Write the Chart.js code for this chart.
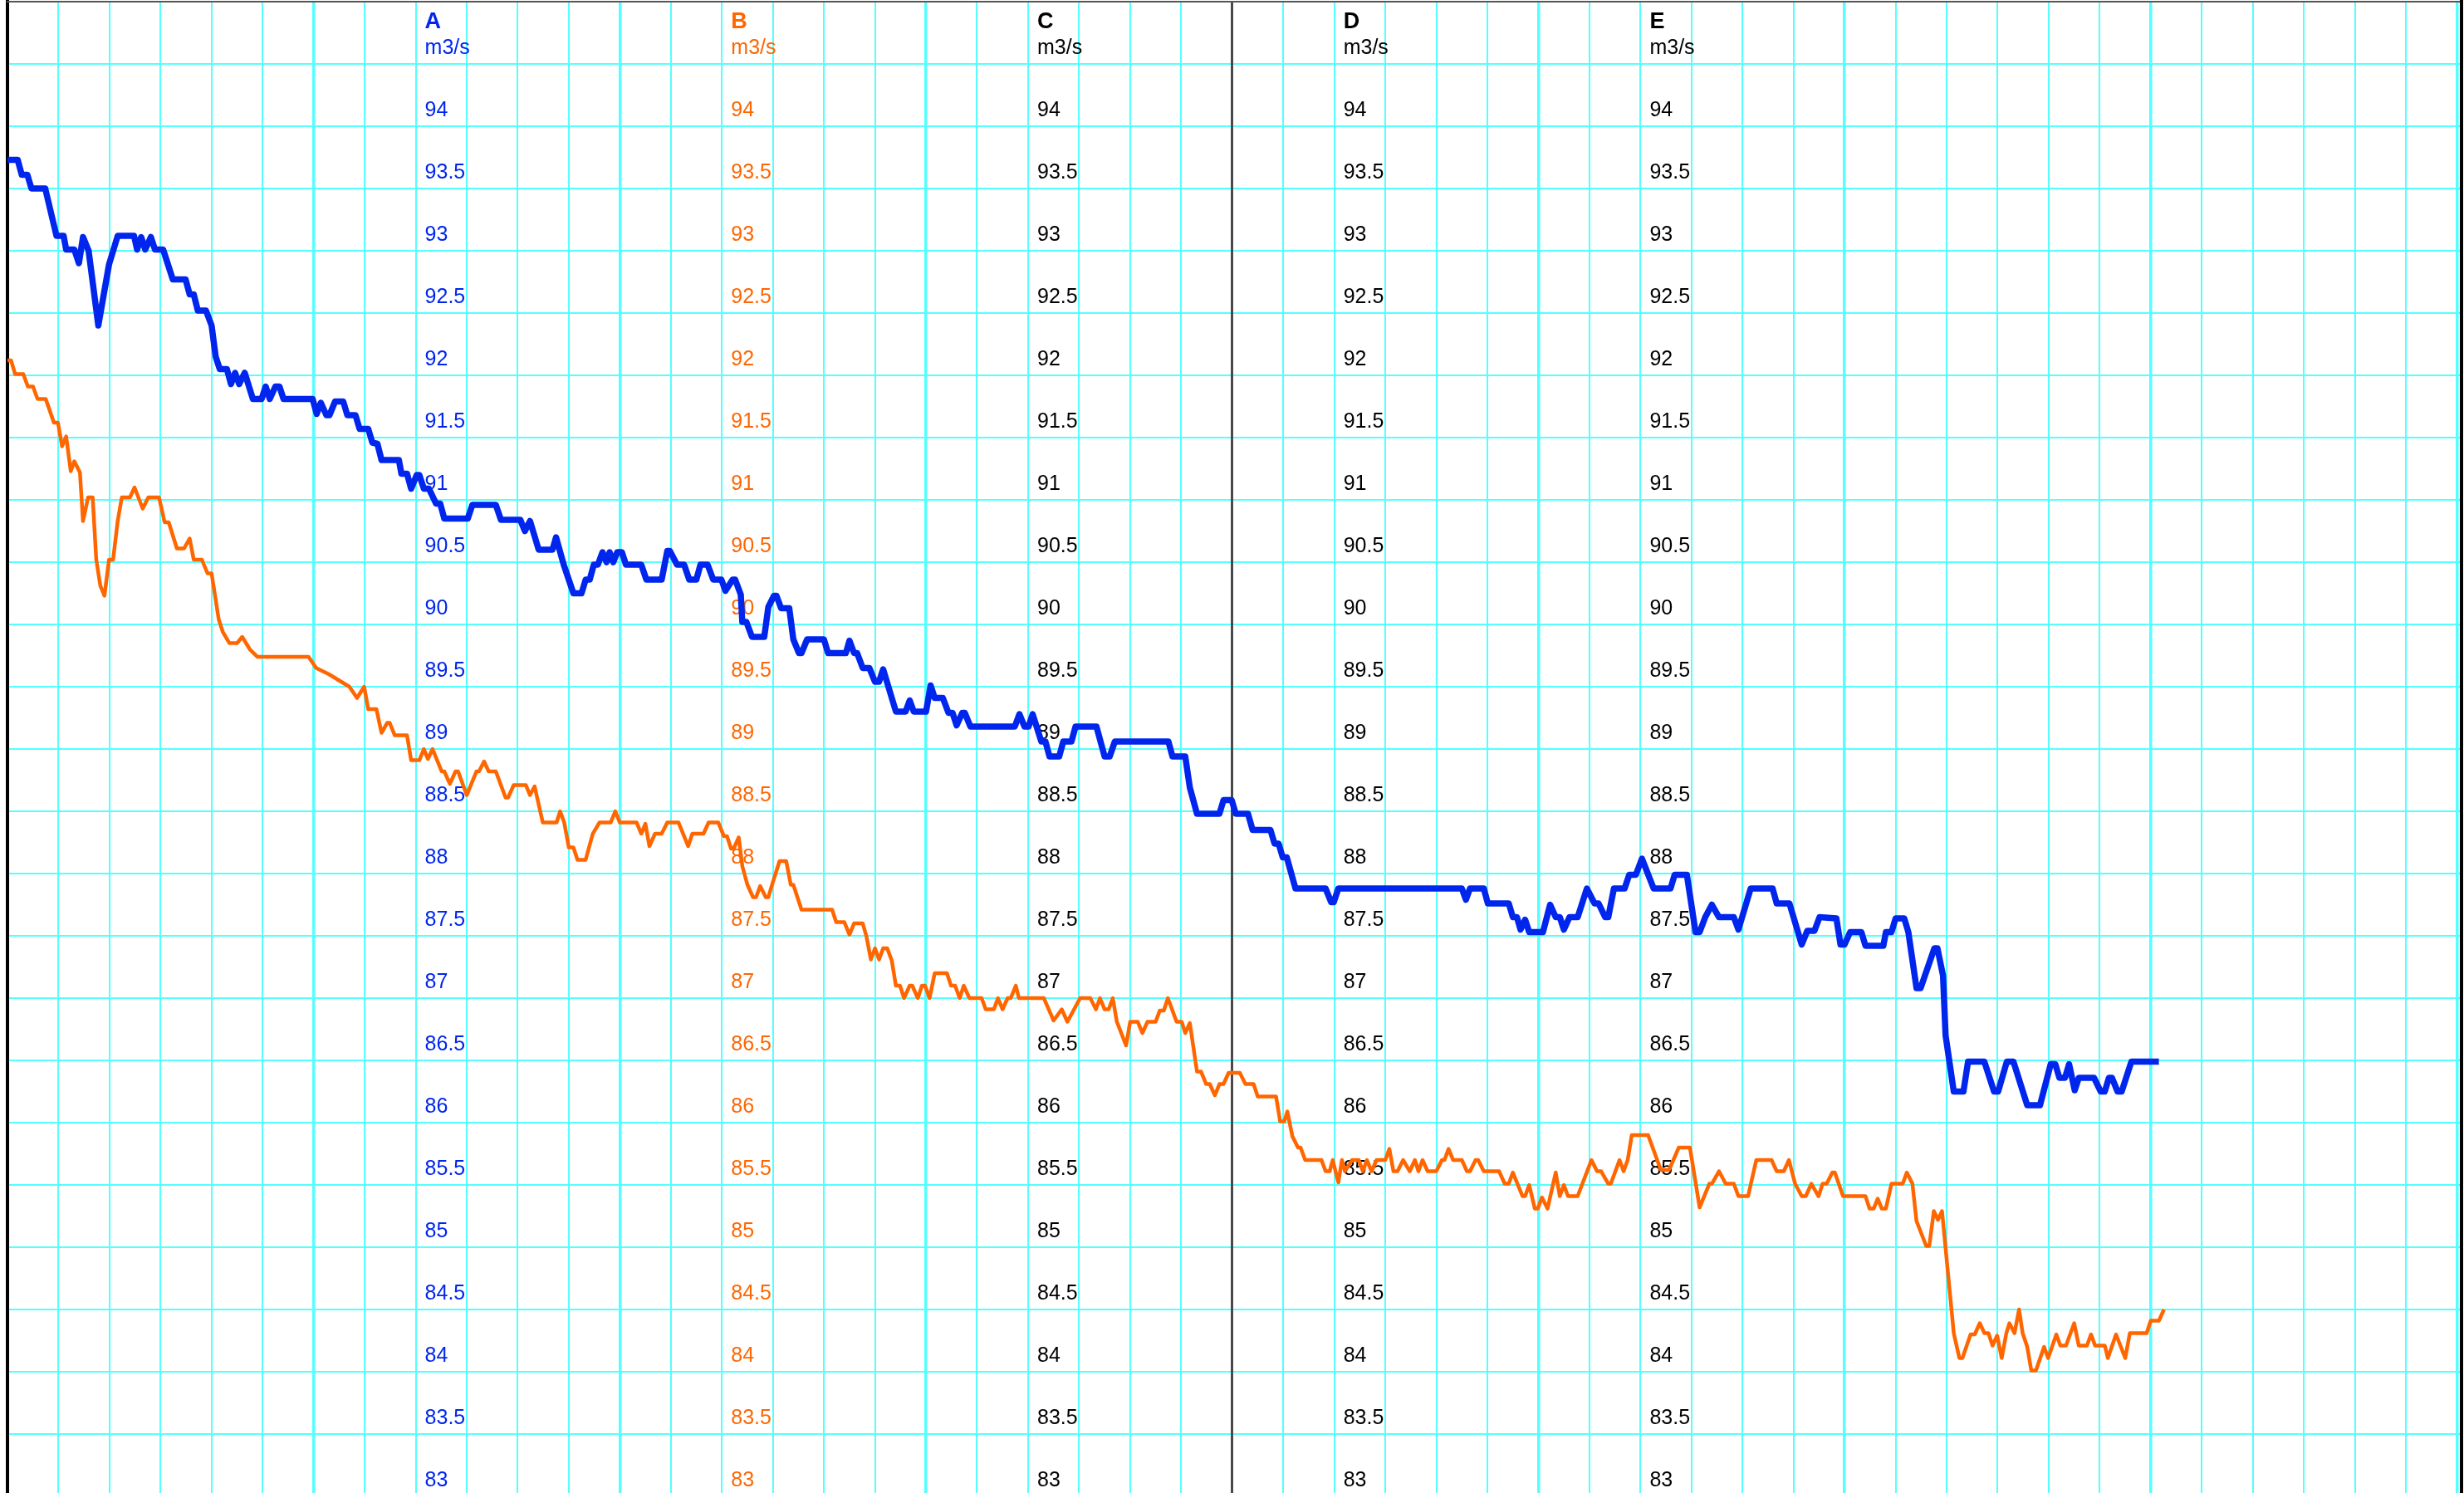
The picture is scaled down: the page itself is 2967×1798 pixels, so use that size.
<!DOCTYPE html>
<html>
<head>
<meta charset="utf-8">
<script src="https://cdn.jsdelivr.net/npm/chart.js@4.4.1/dist/chart.umd.min.js"></script>
<style>
  html, body { margin: 0; padding: 0; background: #fff; }
  #wrap { width: 2967px; height: 1798px; }
</style>
</head>
<body>
<div id="wrap"><canvas id="flowChart" width="2967" height="1798"></canvas></div>
<script>
// time in grid cells from the left edge, flow in m3/s
const timeA = [0, 0.2, 0.28, 0.39, 0.47, 0.74, 0.96, 1.1, 1.15, 1.31, 1.4, 1.48, 1.59, 1.78, 1.99, 2.16, 2.48, 2.54, 2.62, 2.7, 2.81, 2.89, 3.05, 3.24, 3.49, 3.57, 3.65, 3.73, 3.89, 4, 4.08, 4.16, 4.3, 4.38, 4.46, 4.54, 4.65, 4.81, 4.98, 5.06, 5.14, 5.25, 5.33, 5.41, 5.98, 6.06, 6.14, 6.25, 6.31, 6.42, 6.58, 6.66, 6.82, 6.9, 7.07, 7.15, 7.25, 7.33, 7.67, 7.72, 7.83, 7.91, 8.02, 8.07, 8.16, 8.26, 8.4, 8.48, 8.56, 9.02, 9.11, 9.57, 9.67, 10.05, 10.14, 10.24, 10.41, 10.68, 10.75, 10.9, 11.09, 11.25, 11.33, 11.41, 11.49, 11.57, 11.66, 11.74, 11.8, 11.87, 11.95, 12.04, 12.12, 12.42, 12.52, 12.82, 12.93, 12.98, 13.12, 13.26, 13.36, 13.5, 13.58, 13.72, 13.83, 13.99, 14.07, 14.21, 14.26, 14.37, 14.4, 14.48, 14.59, 14.83, 14.91, 15.02, 15.07, 15.16, 15.32, 15.4, 15.51, 15.56, 15.67, 16, 16.08, 16.43, 16.5, 16.59, 16.65, 16.76, 16.89, 17, 17.08, 17.16, 17.41, 17.6, 17.68, 17.76, 18, 18.09, 18.17, 18.33, 18.44, 18.52, 18.6, 18.71, 18.76, 18.87, 19.74, 19.83, 19.93, 20.01, 20.09, 20.26, 20.34, 20.42, 20.61, 20.69, 20.85, 20.93, 21.34, 21.42, 21.5, 21.6, 21.7, 22.75, 22.83, 23.08, 23.17, 23.31, 23.75, 23.83, 23.99, 24.07, 24.31, 24.4, 24.75, 24.83, 24.91, 24.99, 25.07, 25.24, 25.83, 25.94, 25.99, 26.08, 28.5, 28.58, 28.66, 28.93, 29.01, 29.42, 29.5, 29.58, 29.65, 29.74, 29.82, 30.09, 30.23, 30.34, 30.42, 30.5, 30.61, 30.77, 30.95, 31.1, 31.18, 31.31, 31.37, 31.48, 31.69, 31.78, 31.91, 32.03, 32.26, 32.59, 32.67, 32.91, 33.08, 33.16, 33.27, 33.4, 33.54, 33.83, 33.92, 34.16, 34.59, 34.67, 34.92, 35.16, 35.27, 35.41, 35.51, 35.84, 35.92, 36, 36.11, 36.33, 36.41, 36.76, 36.81, 36.92, 37, 37.17, 37.25, 37.41, 37.49, 37.76, 37.82, 37.93, 37.98, 38.14, 38.33, 38.42, 38.74, 38.93, 39.01, 39.18, 39.31, 39.58, 39.83, 40.04, 40.13, 40.21, 40.32, 40.4, 40.51, 40.59, 40.89, 41.02, 41.1, 41.18, 41.24, 41.35, 41.43, 41.62, 42.16];
const flowA = [93.73, 93.73, 93.61, 93.61, 93.5, 93.5, 93.12, 93.12, 93.01, 93.01, 92.9, 93.11, 93, 92.4, 92.89, 93.12, 93.12, 93.01, 93.11, 93.01, 93.11, 93.01, 93.01, 92.77, 92.77, 92.65, 92.65, 92.52, 92.52, 92.4, 92.15, 92.05, 92.05, 91.93, 92.02, 91.93, 92.02, 91.81, 91.81, 91.91, 91.81, 91.91, 91.91, 91.81, 91.81, 91.69, 91.78, 91.68, 91.68, 91.79, 91.79, 91.68, 91.68, 91.57, 91.57, 91.46, 91.45, 91.32, 91.32, 91.21, 91.21, 91.09, 91.2, 91.2, 91.09, 91.09, 90.97, 90.97, 90.85, 90.85, 90.96, 90.96, 90.84, 90.84, 90.75, 90.83, 90.6, 90.6, 90.7, 90.48, 90.25, 90.25, 90.36, 90.36, 90.48, 90.48, 90.58, 90.5, 90.58, 90.5, 90.58, 90.58, 90.48, 90.48, 90.36, 90.36, 90.59, 90.59, 90.48, 90.48, 90.36, 90.36, 90.48, 90.48, 90.36, 90.36, 90.27, 90.36, 90.36, 90.24, 90.02, 90.02, 89.9, 89.9, 90.14, 90.23, 90.23, 90.13, 90.13, 89.88, 89.77, 89.77, 89.88, 89.88, 89.77, 89.77, 89.87, 89.77, 89.77, 89.65, 89.65, 89.54, 89.54, 89.64, 89.3, 89.3, 89.39, 89.3, 89.3, 89.51, 89.41, 89.41, 89.29, 89.29, 89.19, 89.29, 89.29, 89.18, 89.18, 89.28, 89.18, 89.18, 89.28, 89.06, 89.06, 88.94, 88.94, 89.06, 89.06, 89.18, 89.18, 89.06, 88.94, 88.94, 89.06, 89.06, 88.94, 88.94, 88.69, 88.48, 88.48, 88.59, 88.59, 88.48, 88.48, 88.35, 88.35, 88.24, 88.24, 88.13, 88.13, 87.88, 87.88, 87.77, 87.77, 87.88, 87.88, 87.79, 87.88, 87.88, 87.76, 87.76, 87.65, 87.65, 87.55, 87.63, 87.53, 87.53, 87.75, 87.65, 87.65, 87.55, 87.65, 87.65, 87.88, 87.76, 87.76, 87.65, 87.65, 87.88, 87.88, 87.99, 87.99, 88.12, 87.88, 87.88, 87.99, 87.99, 87.53, 87.53, 87.65, 87.75, 87.65, 87.65, 87.55, 87.88, 87.88, 87.76, 87.76, 87.43, 87.54, 87.54, 87.65, 87.64, 87.43, 87.43, 87.53, 87.53, 87.42, 87.42, 87.53, 87.53, 87.64, 87.64, 87.53, 87.08, 87.08, 87.4, 87.4, 87.18, 86.7, 86.25, 86.25, 86.49, 86.49, 86.25, 86.25, 86.49, 86.49, 86.14, 86.14, 86.47, 86.47, 86.36, 86.36, 86.47, 86.26, 86.36, 86.36, 86.25, 86.25, 86.36, 86.36, 86.25, 86.25, 86.49, 86.49];

const timeB = [0, 0.07, 0.15, 0.31, 0.4, 0.5, 0.59, 0.75, 0.91, 0.99, 1.07, 1.15, 1.24, 1.31, 1.42, 1.48, 1.58, 1.67, 1.74, 1.82, 1.9, 1.99, 2.07, 2.16, 2.24, 2.4, 2.49, 2.65, 2.76, 2.97, 3.08, 3.16, 3.32, 3.46, 3.57, 3.65, 3.81, 3.92, 4, 4.14, 4.22, 4.35, 4.5, 4.6, 4.75, 4.9, 5.9, 6.05, 6.3, 6.5, 6.7, 6.85, 6.99, 7.07, 7.23, 7.33, 7.44, 7.49, 7.59, 7.83, 7.91, 8.07, 8.16, 8.24, 8.33, 8.51, 8.56, 8.67, 8.78, 8.83, 9, 9.19, 9.24, 9.34, 9.43, 9.57, 9.76, 9.81, 9.92, 10.16, 10.24, 10.33, 10.49, 10.76, 10.83, 10.91, 11, 11.09, 11.17, 11.33, 11.47, 11.6, 11.82, 11.91, 12, 12.33, 12.42, 12.5, 12.58, 12.69, 12.82, 12.93, 13.15, 13.34, 13.42, 13.64, 13.74, 13.93, 14.04, 14.1, 14.18, 14.23, 14.33, 14.4, 14.5, 14.61, 14.67, 14.75, 14.86, 14.91, 14.99, 15.13, 15.26, 15.35, 15.4, 15.56, 16.16, 16.24, 16.4, 16.5, 16.59, 16.76, 16.83, 16.92, 17, 17.08, 17.16, 17.24, 17.33, 17.41, 17.49, 17.57, 17.68, 17.73, 17.84, 17.92, 17.98, 18.07, 18.17, 18.41, 18.49, 18.57, 18.66, 18.74, 18.85, 19.09, 19.17, 19.33, 19.41, 19.5, 19.6, 19.66, 19.76, 19.82, 20.31, 20.5, 20.66, 20.77, 21.02, 21.22, 21.33, 21.41, 21.5, 21.58, 21.66, 21.74, 21.92, 22, 22.15, 22.24, 22.34, 22.5, 22.58, 22.66, 22.74, 22.91, 23.01, 23.08, 23.17, 23.31, 23.39, 23.49, 23.56, 23.66, 23.75, 23.83, 23.93, 24.15, 24.26, 24.42, 24.5, 24.86, 24.94, 25.02, 25.08, 25.18, 25.29, 25.34, 25.43, 25.75, 25.83, 25.91, 25.97, 26.08, 26.15, 26.21, 26.35, 26.48, 26.56, 26.64, 26.73, 26.83, 27, 27.08, 27.16, 27.24, 27.35, 27.48, 27.58, 27.65, 27.73, 27.83, 28, 28.11, 28.16, 28.24, 28.33, 28.5, 28.6, 28.66, 28.77, 28.82, 28.93, 29.23, 29.34, 29.42, 29.5, 29.69, 29.74, 29.82, 29.93, 29.99, 30.07, 30.18, 30.34, 30.42, 30.5, 30.58, 30.77, 31.04, 31.15, 31.23, 31.37, 31.42, 31.59, 31.67, 31.75, 31.83, 32.15, 32.4, 32.56, 32.75, 32.97, 33.16, 33.35, 33.4, 33.54, 33.67, 33.83, 33.92, 34.11, 34.27, 34.57, 34.67, 34.81, 34.91, 35.03, 35.16, 35.24, 35.35, 35.49, 35.57, 35.65, 35.76, 35.81, 35.97, 36.41, 36.49, 36.57, 36.65, 36.73, 36.81, 36.92, 37.14, 37.22, 37.33, 37.41, 37.6, 37.66, 37.75, 37.83, 37.91, 38.14, 38.25, 38.31, 38.47, 38.55, 38.65, 38.74, 38.82, 38.9, 38.99, 39.08, 39.17, 39.23, 39.33, 39.42, 39.49, 39.58, 39.66, 39.75, 39.91, 39.99, 40.15, 40.23, 40.34, 40.5, 40.59, 40.75, 40.83, 40.91, 41.1, 41.16, 41.32, 41.5, 41.59, 41.92, 42, 42.16, 42.26];
const flowB = [92.12, 92.12, 92.01, 92.01, 91.91, 91.91, 91.81, 91.81, 91.62, 91.62, 91.43, 91.51, 91.23, 91.31, 91.22, 90.83, 91.02, 91.02, 90.52, 90.31, 90.23, 90.52, 90.52, 90.83, 91.02, 91.02, 91.1, 90.93, 91.02, 91.02, 90.82, 90.82, 90.61, 90.61, 90.69, 90.52, 90.52, 90.41, 90.41, 90.04, 89.94, 89.85, 89.85, 89.9, 89.8, 89.74, 89.74, 89.65, 89.6, 89.55, 89.5, 89.41, 89.5, 89.32, 89.32, 89.13, 89.21, 89.21, 89.11, 89.11, 88.91, 88.91, 89, 88.92, 89, 88.82, 88.82, 88.72, 88.82, 88.82, 88.63, 88.82, 88.82, 88.9, 88.82, 88.82, 88.61, 88.61, 88.71, 88.71, 88.63, 88.7, 88.41, 88.41, 88.5, 88.41, 88.21, 88.21, 88.11, 88.11, 88.32, 88.41, 88.41, 88.5, 88.41, 88.41, 88.32, 88.4, 88.22, 88.32, 88.32, 88.41, 88.41, 88.22, 88.32, 88.32, 88.41, 88.41, 88.3, 88.3, 88.2, 88.2, 88.29, 88.06, 87.91, 87.81, 87.81, 87.9, 87.81, 87.81, 87.92, 88.1, 88.1, 87.91, 87.91, 87.71, 87.71, 87.61, 87.61, 87.51, 87.6, 87.6, 87.5, 87.31, 87.4, 87.31, 87.4, 87.4, 87.3, 87.1, 87.1, 87, 87.1, 87.1, 87, 87.1, 87.1, 87, 87.2, 87.2, 87.1, 87.1, 87, 87.1, 87, 87, 86.91, 86.91, 87, 86.91, 87, 87, 87.1, 87, 87, 86.82, 86.91, 86.81, 87, 87, 86.91, 87, 86.91, 86.91, 87, 86.81, 86.62, 86.81, 86.81, 86.72, 86.81, 86.81, 86.9, 86.9, 87, 86.81, 86.81, 86.72, 86.8, 86.41, 86.41, 86.31, 86.31, 86.22, 86.31, 86.31, 86.4, 86.4, 86.31, 86.31, 86.21, 86.21, 86.01, 86.01, 86.09, 85.89, 85.8, 85.8, 85.7, 85.7, 85.61, 85.61, 85.7, 85.52, 85.7, 85.61, 85.7, 85.7, 85.61, 85.7, 85.61, 85.7, 85.7, 85.79, 85.61, 85.61, 85.7, 85.61, 85.7, 85.61, 85.7, 85.61, 85.61, 85.7, 85.7, 85.79, 85.7, 85.7, 85.61, 85.61, 85.7, 85.7, 85.61, 85.61, 85.51, 85.51, 85.6, 85.41, 85.41, 85.5, 85.31, 85.31, 85.4, 85.31, 85.6, 85.41, 85.5, 85.41, 85.41, 85.7, 85.61, 85.61, 85.51, 85.51, 85.7, 85.61, 85.7, 85.9, 85.9, 85.62, 85.62, 85.8, 85.8, 85.32, 85.51, 85.51, 85.61, 85.51, 85.51, 85.41, 85.41, 85.7, 85.7, 85.61, 85.61, 85.7, 85.51, 85.41, 85.41, 85.51, 85.41, 85.51, 85.51, 85.6, 85.6, 85.41, 85.41, 85.31, 85.31, 85.39, 85.31, 85.31, 85.51, 85.51, 85.6, 85.51, 85.21, 85.01, 85.01, 85.29, 85.22, 85.29, 84.31, 84.11, 84.11, 84.3, 84.3, 84.39, 84.31, 84.31, 84.21, 84.29, 84.11, 84.31, 84.39, 84.31, 84.5, 84.31, 84.2, 84.01, 84.01, 84.2, 84.11, 84.3, 84.21, 84.21, 84.39, 84.21, 84.21, 84.3, 84.21, 84.21, 84.11, 84.3, 84.11, 84.31, 84.31, 84.41, 84.41, 84.5];

const axisNames = ['A', 'B', 'C', 'D', 'E'];
const axisColors = ['#0026ee', '#ff6600', '#000000', '#000000', '#000000'];
const axisCells = [8, 14, 20, 26, 32];
const unitLabel = 'm3/s';
const tickValues = [83, 83.5, 84, 84.5, 85, 85.5, 86, 86.5, 87, 87.5, 88, 88.5, 89, 89.5, 90, 90.5, 91, 91.5, 92, 92.5, 93, 93.5, 94];
const gridValues = [83.5, 84, 84.5, 85, 85.5, 86, 86.5, 87, 87.5, 88, 88.5, 89, 89.5, 90, 90.5, 91, 91.5, 92, 92.5, 93, 93.5, 94, 94.5, 95];
const cellLines = [0, 1, 2, 3, 4, 5, 6, 7, 8, 9, 10, 11, 12, 13, 14, 15, 16, 17, 18, 19, 20, 21, 22, 23, 24, 25, 26, 27, 28, 29, 30, 31, 32, 33, 34, 35, 36, 37, 38, 39, 40, 41, 42, 43, 44, 45, 46, 47, 48];

const cyan = '#55ffff';
const cellPx = 61.45;
const unitTick = 94.5;
const nameTick = 94.713;

function toPoints(xs, ys) {
    return xs.map((x, i) => ({ x: x, y: ys[i] }));
}

const scales = {
    y: {
        position: 'left',
        min: 83.027,
        max: 95,
        afterBuildTicks: (axis) => { axis.ticks = gridValues.map(v => ({ value: v })); },
        ticks: { display: false },
        grid: { color: cyan, lineWidth: 2, drawTicks: false },
        border: { display: true, color: '#000000', width: 4 }
    },
    x: {
        type: 'linear',
        position: 'top',
        min: 0,
        max: 48.09,
        afterBuildTicks: (axis) => { axis.ticks = cellLines.map(v => ({ value: v })); },
        ticks: { display: false },
        grid: {
            drawTicks: false,
            color: (ctx) => ctx.tick && ctx.tick.value === 24 ? '#4a4a4a' : cyan,
            lineWidth: (ctx) => {
                if (!ctx.tick) return 2;
                if (ctx.tick.value === 24) return 3;
                return ctx.tick.value % 6 === 0 ? 3.5 : 2;
            }
        },
        border: { display: true, color: '#555555', width: 2 }
    },
    yRight: {
        position: 'right',
        min: 83.027,
        max: 95,
        ticks: { display: false },
        grid: { display: false, drawTicks: false },
        border: { display: true, color: '#000000', width: 4 }
    }
};

// one label column per series, drawn inside the plot
axisNames.forEach((name, i) => {
    scales['y' + name] = {
        position: 'left',
        min: 83.027,
        max: 95,
        afterBuildTicks: (axis) => {
            axis.ticks = tickValues.concat([unitTick, nameTick]).map(v => ({ value: v }));
        },
        afterFit: (axis) => {
            axis.width = 0;
            axis.paddingTop = 0;
            axis.paddingBottom = 0;
        },
        grid: { display: false, drawTicks: false },
        border: { display: false },
        ticks: {
            mirror: true,
            crossAlign: 'near',
            padding: axisCells[i] * cellPx + 11,
            labelOffset: -19,
            autoSkip: false,
            color: axisColors[i],
            font: (ctx) => ctx.tick && ctx.tick.value > 94.6
                ? { family: 'Liberation Sans, Arial, sans-serif', size: 27, weight: 'bold' }
                : { family: 'Liberation Sans, Arial, sans-serif', size: 25 },
            callback: (value) => {
                if (value > 94.6) return name;
                if (value > 94.2) return unitLabel;
                return String(value);
            }
        }
    };
});

new Chart(document.getElementById('flowChart').getContext('2d'), {
    type: 'line',
    data: {
        datasets: [
            {
                label: 'A',
                data: toPoints(timeA, flowA),
                yAxisID: 'y',
                borderColor: '#0026ee',
                borderWidth: 7.5,
                borderJoinStyle: 'round',
                pointRadius: 0,
                tension: 0
            },
            {
                label: 'B',
                data: toPoints(timeB, flowB),
                yAxisID: 'y',
                borderColor: '#ff6600',
                borderWidth: 4.5,
                borderJoinStyle: 'round',
                pointRadius: 0,
                tension: 0
            }
        ]
    },
    options: {
        responsive: false,
        animation: false,
        devicePixelRatio: 1,
        layout: { padding: { left: 9, right: 3, top: 2, bottom: 0 } },
        plugins: {
            legend: { display: false },
            tooltip: { enabled: false }
        },
        scales: scales
    }
});
</script>
</body>
</html>
